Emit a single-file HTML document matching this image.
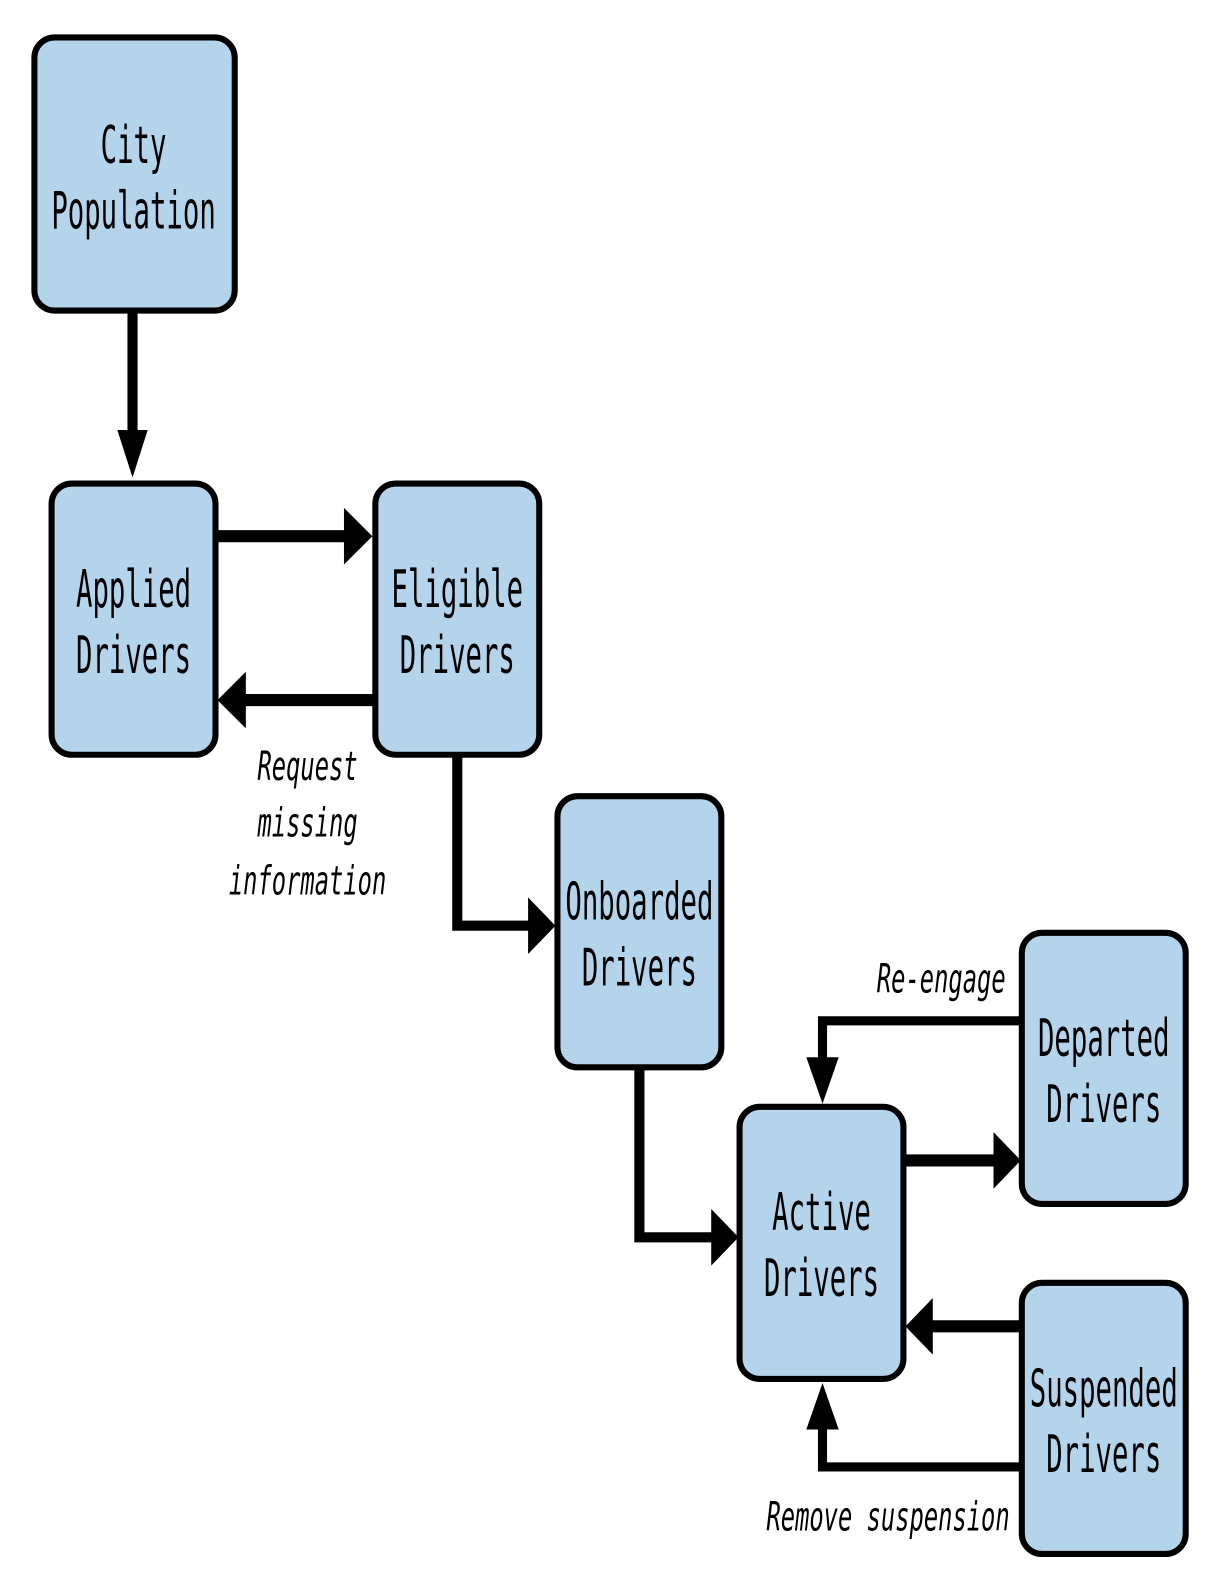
<!DOCTYPE html>
<html><head><style>html,body{margin:0;padding:0;background:#fff;}svg{display:block}</style></head>
<body>
<svg width="1214" height="1586" viewBox="0 0 1214 1586" xmlns="http://www.w3.org/2000/svg">
<g transform="scale(1.0117)">
<g fill="#b4d4eb" stroke="#000" stroke-width="6">
<rect x="34" y="37" width="198" height="270" rx="20"/>
<rect x="51" y="478" width="162" height="268" rx="20"/>
<rect x="371" y="478" width="162" height="268" rx="20"/>
<rect x="551" y="787" width="162" height="268" rx="20"/>
<rect x="731" y="1094" width="162" height="269" rx="20"/>
<rect x="1010" y="922" width="162" height="268" rx="20"/>
<rect x="1010" y="1268" width="162" height="268" rx="20"/>
</g>
<g stroke="#000" fill="none">
<line x1="131" y1="308" x2="131" y2="430" stroke-width="10"/>
<line x1="214" y1="530" x2="345" y2="530" stroke-width="12"/>
<line x1="237" y1="692" x2="369" y2="692" stroke-width="12"/>
<polyline points="452,748 452,915 527,915" stroke-width="10"/>
<polyline points="632,1057 632,1223 708,1223" stroke-width="10"/>
<polyline points="1008,1009 813,1009 813,1062" stroke-width="9"/>
<line x1="894" y1="1147" x2="985" y2="1147" stroke-width="12"/>
<line x1="918" y1="1311" x2="1008" y2="1311" stroke-width="12"/>
<polyline points="1008,1450 813,1450 813,1396" stroke-width="9"/>
</g>
<g fill="#000">
<polygon points="116,425 146,425 131,472"/>
<polygon points="340,502 368,530 340,558"/>
<polygon points="243,664 215,692 243,720"/>
<polygon points="522,887 549,915 522,943"/>
<polygon points="703,1195 730,1223 703,1251"/>
<polygon points="797,1045 829,1045 813,1091"/>
<polygon points="982,1119 1009,1147 982,1175"/>
<polygon points="922,1283 895,1311 922,1339"/>
<polygon points="797,1413 829,1413 813,1367"/>
</g>
<g font-family="'DejaVu Sans Mono','Liberation Mono',monospace" font-size="27" text-anchor="middle" fill="#000">
<text transform="translate(132,161) scale(1,1.9)">City</text>
<text transform="translate(132,226) scale(1,1.9)">Population</text>
<text transform="translate(132,600) scale(1,1.9)">Applied</text>
<text transform="translate(132,665) scale(1,1.9)">Drivers</text>
<text transform="translate(452,600) scale(1,1.9)">Eligible</text>
<text transform="translate(452,665) scale(1,1.9)">Drivers</text>
<text transform="translate(632,909) scale(1,1.9)">Onboarded</text>
<text transform="translate(632,974) scale(1,1.9)">Drivers</text>
<text transform="translate(812,1216) scale(1,1.9)">Active</text>
<text transform="translate(812,1281) scale(1,1.9)">Drivers</text>
<text transform="translate(1091,1044) scale(1,1.9)">Departed</text>
<text transform="translate(1091,1109) scale(1,1.9)">Drivers</text>
<text transform="translate(1091,1390) scale(1,1.9)">Suspended</text>
<text transform="translate(1091,1455) scale(1,1.9)">Drivers</text>
</g>
<g font-family="'DejaVu Sans Mono','Liberation Mono',monospace" font-style="italic" font-size="23.5" fill="#000">
<text text-anchor="middle" transform="translate(304,771) scale(1,1.7)">Request</text>
<text text-anchor="middle" transform="translate(304,827) scale(1,1.7)">missing</text>
<text text-anchor="middle" transform="translate(304,884) scale(1,1.7)">information</text>
<text text-anchor="end" transform="translate(994,981) scale(1,1.7)">Re-engage</text>
<text text-anchor="end" transform="translate(998,1513) scale(1,1.7)">Remove suspension</text>
</g>
</g>
</svg>
</body></html>
